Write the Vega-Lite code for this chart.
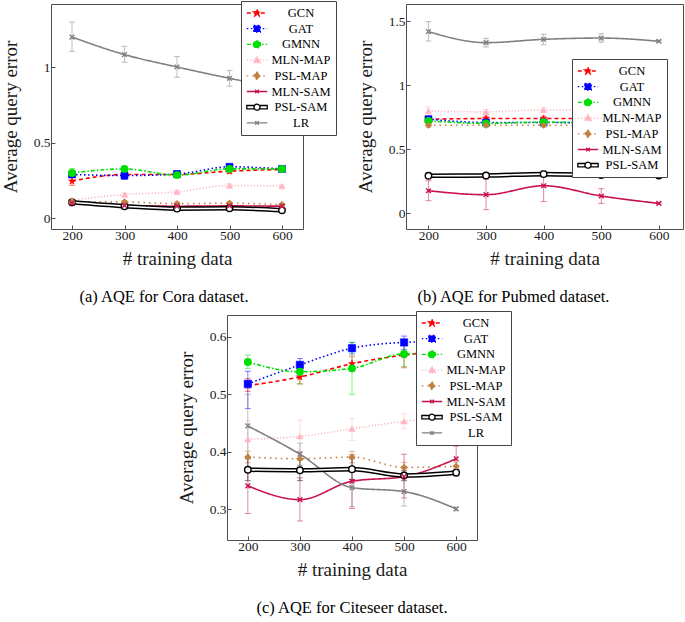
{
  "$schema": "https://vega.github.io/schema/vega-lite/v6.json",
  "padding": {"left": 0, "top": 0, "right": 0, "bottom": 0},
  "bounds": "full",
  "spacing": 4,
  "resolve": {"scale": {"color": "independent", "fill": "independent", "stroke": "independent", "shape": "independent", "strokeDash": "independent"}},
  "vconcat": [
   {
    "bounds": "flush",
    "spacing": 103,
    "resolve": {"scale": {"color": "independent", "fill": "independent", "stroke": "independent", "shape": "independent", "strokeDash": "independent"}},
    "hconcat": [
    {
      "width": 252, "height": 225,
      "data": {"name": "a"},
      "title": {"text": "(a) AQE for Cora dataset.", "orient": "bottom", "font": "Liberation Serif", "fontSize": 16.5, "fontWeight": "normal", "color": "black", "anchor": "middle", "dx": -13, "offset": 20},
      "encoding": {
        "x": {"field": "x", "type": "quantitative", "scale": {"domain": [160, 640], "nice": false, "zero": false}, "axis": {"values": [200, 300, 400, 500, 600], "title": "# training data"}},
        "y": {"field": "y", "type": "quantitative", "scale": {"domain": [-0.071, 1.419], "nice": false, "zero": false}, "axis": {"values": [0, 0.5, 1], "format": "~g", "title": "Average query error"}}
      },
      "layer": [
        {"transform": [{"filter": "false"}], "mark": {"type": "point"},
         "encoding": {
           "fill": {"field": "s", "type": "nominal", "legend": {"title": null, "orient": "none", "legendX": 190, "legendY": -3, "strokeColor": "#444444", "fillColor": "white", "padding": 5, "symbolSize": 144, "symbolStrokeWidth": 1.3, "symbolOffset": 4, "labelOffset": 37, "labelAlign": "center", "labelFont": "Liberation Serif", "labelFontSize": 12.5, "labelColor": "black", "rowPadding": 1.7},
             "scale": {"domain": ["GCN","GAT","GMNN","MLN-MAP","PSL-MAP","MLN-SAM","PSL-SAM","LR"], "range": ["#ff0000","#0000ff","#00e000","#ffb6c1","#bf8040","#c8104e","#ffffff","#808080"]}},
           "stroke": {"field": "s", "type": "nominal", "legend": {"title": null, "orient": "none", "legendX": 190, "legendY": -3, "strokeColor": "#444444", "fillColor": "white", "padding": 5, "symbolSize": 144, "symbolStrokeWidth": 1.3, "symbolOffset": 4, "labelOffset": 37, "labelAlign": "center", "labelFont": "Liberation Serif", "labelFontSize": 12.5, "labelColor": "black", "rowPadding": 1.7},
             "scale": {"domain": ["GCN","GAT","GMNN","MLN-MAP","PSL-MAP","MLN-SAM","PSL-SAM","LR"], "range": ["#ff0000","#0000ff","#00e000","#ffb6c1","#bf8040","#c8104e","#000000","#808080"]}},
           "strokeDash": {"field": "s", "type": "nominal", "legend": {"title": null, "orient": "none", "legendX": 190, "legendY": -3, "strokeColor": "#444444", "fillColor": "white", "padding": 5, "symbolSize": 144, "symbolStrokeWidth": 1.3, "symbolOffset": 4, "labelOffset": 37, "labelAlign": "center", "labelFont": "Liberation Serif", "labelFontSize": 12.5, "labelColor": "black", "rowPadding": 1.7},
             "scale": {"domain": ["GCN","GAT","GMNN","MLN-MAP","PSL-MAP","MLN-SAM","PSL-SAM","LR"], "range": [[4,3],[1.5,2.5],[4,2,1.5,2],[1.2,2],[1.5,4],[1,0],[1,0],[1,0]]}},
           "shape": {"field": "s", "type": "nominal", "legend": {"title": null, "orient": "none", "legendX": 190, "legendY": -3, "strokeColor": "#444444", "fillColor": "white", "padding": 5, "symbolSize": 144, "symbolStrokeWidth": 1.3, "symbolOffset": 4, "labelOffset": 37, "labelAlign": "center", "labelFont": "Liberation Serif", "labelFontSize": 12.5, "labelColor": "black", "rowPadding": 1.7},
             "scale": {"domain": ["GCN","GAT","GMNN","MLN-MAP","PSL-MAP","MLN-SAM","PSL-SAM","LR"], "range": [
               "M-1.7,0H1.7M0,-0.62L0.147,-0.202L0.59,-0.192L0.238,0.077L0.364,0.502L0,0.25L-0.364,0.502L-0.238,0.077L-0.59,-0.192L-0.147,-0.202Z",
               "M-1.7,0H1.7M-0.55,-0.55H0.55V0.55H-0.55Z",
               "M-1.7,0H1.7M-0.6,0A0.6,0.6,0,1,0,0.6,0A0.6,0.6,0,1,0,-0.6,0Z",
               "M-1.7,0H1.7M0,-0.65L0.6,0.45H-0.6Z",
               "M-1.7,0H1.7M0,-0.7L0.55,0L0,0.7L-0.55,0Z",
               "M-1.7,0H1.7M-0.3,-0.3L0.3,0.3M-0.3,0.3L0.3,-0.3",
               "M-1.7,-0.28H-0.5V0.28H-1.7ZM0.5,-0.28H1.7V0.28H0.5ZM-0.5,0A0.5,0.5,0,1,0,0.5,0A0.5,0.5,0,1,0,-0.5,0Z",
               "M-1.7,0H1.7M-0.3,-0.3L0.3,0.3M-0.3,0.3L0.3,-0.3"]}}
         }},
        {"mark": {"type": "errorbar", "ticks": {"size": 6, "opacity": 0.5}, "rule": {"opacity": 0.5}},
         "encoding": {"y": {"field": "lo", "type": "quantitative", "scale": {"domain": [-0.071, 1.419], "nice": false, "zero": false}, "title": "Average query error"}, "y2": {"field": "hi"},
           "color": {"field": "s", "type": "nominal", "legend": null, "scale": {"domain": ["LR","GCN","GAT","GMNN","MLN-MAP","PSL-MAP","MLN-SAM","PSL-SAM"], "range": ["#808080","#ff0000","#0000ff","#00e000","#ffb6c1","#bf8040","#c8104e","#000000"]}}}},
        {"transform": [{"filter": {"not": {"field": "s", "equal": "PSL-SAM"}}}],
         "mark": {"type": "line", "interpolate": "monotone", "strokeWidth": 1.6},
         "encoding": {"color": {"field": "s", "type": "nominal", "legend": null, "scale": {"domain": ["LR","GCN","GAT","GMNN","MLN-MAP","PSL-MAP","MLN-SAM","PSL-SAM"], "range": ["#808080","#ff0000","#0000ff","#00e000","#ffb6c1","#bf8040","#c8104e","#000000"]}},
           "strokeDash": {"field": "s", "type": "nominal"}}},
        {"transform": [{"filter": {"field": "s", "equal": "PSL-SAM"}}], "mark": {"type": "line", "interpolate": "monotone", "strokeWidth": 4.6, "color": "black"}, "encoding": {}},
        {"transform": [{"filter": {"field": "s", "equal": "PSL-SAM"}}], "mark": {"type": "line", "interpolate": "monotone", "strokeWidth": 1.6, "color": "white"}, "encoding": {}},
        {"transform": [{"filter": {"field": "s", "equal": "GCN"}}], "mark": {"type": "point", "shape": "M0,-1L0.235,-0.324L0.951,-0.309L0.38,0.124L0.588,0.809L0,0.4L-0.588,0.809L-0.38,0.124L-0.951,-0.309L-0.235,-0.324Z", "filled": true, "size": 55, "strokeWidth": 0.5, "opacity": 1},
         "encoding": {"fill": {"field": "s", "type": "nominal"}, "stroke": {"field": "s", "type": "nominal"}}},
        {"transform": [{"filter": {"field": "s", "equal": "GAT"}}], "mark": {"type": "point", "shape": "square", "filled": true, "size": 50, "strokeWidth": 0.5, "opacity": 1},
         "encoding": {"fill": {"field": "s", "type": "nominal"}, "stroke": {"field": "s", "type": "nominal"}}},
        {"transform": [{"filter": {"field": "s", "oneOf": ["GMNN", "PSL-SAM"]}}], "mark": {"type": "point", "shape": "circle", "filled": true, "size": 42, "strokeWidth": 1.4, "opacity": 1},
         "encoding": {"fill": {"field": "s", "type": "nominal"}, "stroke": {"field": "s", "type": "nominal"}}},
        {"transform": [{"filter": {"field": "s", "equal": "MLN-MAP"}}], "mark": {"type": "point", "shape": "triangle-up", "filled": true, "size": 40, "strokeWidth": 0.5, "opacity": 1},
         "encoding": {"fill": {"field": "s", "type": "nominal"}, "stroke": {"field": "s", "type": "nominal"}}},
        {"transform": [{"filter": {"field": "s", "equal": "PSL-MAP"}}], "mark": {"type": "point", "shape": "diamond", "filled": true, "size": 45, "strokeWidth": 0.5, "opacity": 1},
         "encoding": {"fill": {"field": "s", "type": "nominal"}, "stroke": {"field": "s", "type": "nominal"}}},
        {"transform": [{"filter": {"field": "s", "oneOf": ["MLN-SAM", "LR"]}}], "mark": {"type": "point", "shape": "M-1,-1L1,1M-1,1L1,-1", "filled": false, "size": 22, "strokeWidth": 1.4, "opacity": 1},
         "encoding": {"stroke": {"field": "s", "type": "nominal"}}}
      ]
    },
    {
      "width": 277, "height": 225,
      "data": {"name": "b"},
      "title": {"text": "(b) AQE for Pubmed dataset.", "orient": "bottom", "font": "Liberation Serif", "fontSize": 16.5, "fontWeight": "normal", "color": "black", "anchor": "middle", "dx": -31, "offset": 20},
      "encoding": {
        "x": {"field": "x", "type": "quantitative", "scale": {"domain": [161, 642], "nice": false, "zero": false}, "axis": {"values": [200, 300, 400, 500, 600], "title": "# training data"}},
        "y": {"field": "y", "type": "quantitative", "scale": {"domain": [-0.125, 1.633], "nice": false, "zero": false}, "axis": {"values": [0, 0.5, 1, 1.5], "format": "~g", "title": "Average query error"}}
      },
      "layer": [
        {"transform": [{"filter": "false"}], "mark": {"type": "point"},
         "encoding": {
           "fill": {"field": "s", "type": "nominal", "legend": {"title": null, "values": ["GCN","GAT","GMNN","MLN-MAP","PSL-MAP","MLN-SAM","PSL-SAM"], "orient": "none", "legendX": 166, "legendY": 55, "strokeColor": "#444444", "fillColor": "white", "padding": 5, "symbolSize": 144, "symbolStrokeWidth": 1.3, "symbolOffset": 4, "labelOffset": 37, "labelAlign": "center", "labelFont": "Liberation Serif", "labelFontSize": 12.5, "labelColor": "black", "rowPadding": 1.7},
             "scale": {"domain": ["GCN","GAT","GMNN","MLN-MAP","PSL-MAP","MLN-SAM","PSL-SAM","LR"], "range": ["#ff0000","#0000ff","#00e000","#ffb6c1","#bf8040","#c8104e","#ffffff","#808080"]}},
           "stroke": {"field": "s", "type": "nominal", "legend": {"title": null, "values": ["GCN","GAT","GMNN","MLN-MAP","PSL-MAP","MLN-SAM","PSL-SAM"], "orient": "none", "legendX": 166, "legendY": 55, "strokeColor": "#444444", "fillColor": "white", "padding": 5, "symbolSize": 144, "symbolStrokeWidth": 1.3, "symbolOffset": 4, "labelOffset": 37, "labelAlign": "center", "labelFont": "Liberation Serif", "labelFontSize": 12.5, "labelColor": "black", "rowPadding": 1.7},
             "scale": {"domain": ["GCN","GAT","GMNN","MLN-MAP","PSL-MAP","MLN-SAM","PSL-SAM","LR"], "range": ["#ff0000","#0000ff","#00e000","#ffb6c1","#bf8040","#c8104e","#000000","#808080"]}},
           "strokeDash": {"field": "s", "type": "nominal", "legend": {"title": null, "values": ["GCN","GAT","GMNN","MLN-MAP","PSL-MAP","MLN-SAM","PSL-SAM"], "orient": "none", "legendX": 166, "legendY": 55, "strokeColor": "#444444", "fillColor": "white", "padding": 5, "symbolSize": 144, "symbolStrokeWidth": 1.3, "symbolOffset": 4, "labelOffset": 37, "labelAlign": "center", "labelFont": "Liberation Serif", "labelFontSize": 12.5, "labelColor": "black", "rowPadding": 1.7},
             "scale": {"domain": ["GCN","GAT","GMNN","MLN-MAP","PSL-MAP","MLN-SAM","PSL-SAM","LR"], "range": [[4,3],[1.5,2.5],[4,2,1.5,2],[1.2,2],[1.5,4],[1,0],[1,0],[1,0]]}},
           "shape": {"field": "s", "type": "nominal", "legend": {"title": null, "values": ["GCN","GAT","GMNN","MLN-MAP","PSL-MAP","MLN-SAM","PSL-SAM"], "orient": "none", "legendX": 166, "legendY": 55, "strokeColor": "#444444", "fillColor": "white", "padding": 5, "symbolSize": 144, "symbolStrokeWidth": 1.3, "symbolOffset": 4, "labelOffset": 37, "labelAlign": "center", "labelFont": "Liberation Serif", "labelFontSize": 12.5, "labelColor": "black", "rowPadding": 1.7},
             "scale": {"domain": ["GCN","GAT","GMNN","MLN-MAP","PSL-MAP","MLN-SAM","PSL-SAM","LR"], "range": [
               "M-1.7,0H1.7M0,-0.62L0.147,-0.202L0.59,-0.192L0.238,0.077L0.364,0.502L0,0.25L-0.364,0.502L-0.238,0.077L-0.59,-0.192L-0.147,-0.202Z",
               "M-1.7,0H1.7M-0.55,-0.55H0.55V0.55H-0.55Z",
               "M-1.7,0H1.7M-0.6,0A0.6,0.6,0,1,0,0.6,0A0.6,0.6,0,1,0,-0.6,0Z",
               "M-1.7,0H1.7M0,-0.65L0.6,0.45H-0.6Z",
               "M-1.7,0H1.7M0,-0.7L0.55,0L0,0.7L-0.55,0Z",
               "M-1.7,0H1.7M-0.3,-0.3L0.3,0.3M-0.3,0.3L0.3,-0.3",
               "M-1.7,-0.28H-0.5V0.28H-1.7ZM0.5,-0.28H1.7V0.28H0.5ZM-0.5,0A0.5,0.5,0,1,0,0.5,0A0.5,0.5,0,1,0,-0.5,0Z",
               "M-1.7,0H1.7M-0.3,-0.3L0.3,0.3M-0.3,0.3L0.3,-0.3"]}}
         }},
        {"mark": {"type": "errorbar", "ticks": {"size": 6, "opacity": 0.5}, "rule": {"opacity": 0.5}},
         "encoding": {"y": {"field": "lo", "type": "quantitative", "scale": {"domain": [-0.125, 1.633], "nice": false, "zero": false}, "title": "Average query error"}, "y2": {"field": "hi"},
           "color": {"field": "s", "type": "nominal", "legend": null, "scale": {"domain": ["LR","GCN","GAT","GMNN","MLN-MAP","PSL-MAP","MLN-SAM","PSL-SAM"], "range": ["#808080","#ff0000","#0000ff","#00e000","#ffb6c1","#bf8040","#c8104e","#000000"]}}}},
        {"transform": [{"filter": {"not": {"field": "s", "equal": "PSL-SAM"}}}],
         "mark": {"type": "line", "interpolate": "monotone", "strokeWidth": 1.6},
         "encoding": {"color": {"field": "s", "type": "nominal", "legend": null, "scale": {"domain": ["LR","GCN","GAT","GMNN","MLN-MAP","PSL-MAP","MLN-SAM","PSL-SAM"], "range": ["#808080","#ff0000","#0000ff","#00e000","#ffb6c1","#bf8040","#c8104e","#000000"]}},
           "strokeDash": {"field": "s", "type": "nominal"}}},
        {"transform": [{"filter": {"field": "s", "equal": "PSL-SAM"}}], "mark": {"type": "line", "interpolate": "monotone", "strokeWidth": 4.6, "color": "black"}, "encoding": {}},
        {"transform": [{"filter": {"field": "s", "equal": "PSL-SAM"}}], "mark": {"type": "line", "interpolate": "monotone", "strokeWidth": 1.6, "color": "white"}, "encoding": {}},
        {"transform": [{"filter": {"field": "s", "equal": "GCN"}}], "mark": {"type": "point", "shape": "M0,-1L0.235,-0.324L0.951,-0.309L0.38,0.124L0.588,0.809L0,0.4L-0.588,0.809L-0.38,0.124L-0.951,-0.309L-0.235,-0.324Z", "filled": true, "size": 55, "strokeWidth": 0.5, "opacity": 1},
         "encoding": {"fill": {"field": "s", "type": "nominal"}, "stroke": {"field": "s", "type": "nominal"}}},
        {"transform": [{"filter": {"field": "s", "equal": "GAT"}}], "mark": {"type": "point", "shape": "square", "filled": true, "size": 50, "strokeWidth": 0.5, "opacity": 1},
         "encoding": {"fill": {"field": "s", "type": "nominal"}, "stroke": {"field": "s", "type": "nominal"}}},
        {"transform": [{"filter": {"field": "s", "oneOf": ["GMNN", "PSL-SAM"]}}], "mark": {"type": "point", "shape": "circle", "filled": true, "size": 42, "strokeWidth": 1.4, "opacity": 1},
         "encoding": {"fill": {"field": "s", "type": "nominal"}, "stroke": {"field": "s", "type": "nominal"}}},
        {"transform": [{"filter": {"field": "s", "equal": "MLN-MAP"}}], "mark": {"type": "point", "shape": "triangle-up", "filled": true, "size": 40, "strokeWidth": 0.5, "opacity": 1},
         "encoding": {"fill": {"field": "s", "type": "nominal"}, "stroke": {"field": "s", "type": "nominal"}}},
        {"transform": [{"filter": {"field": "s", "equal": "PSL-MAP"}}], "mark": {"type": "point", "shape": "diamond", "filled": true, "size": 45, "strokeWidth": 0.5, "opacity": 1},
         "encoding": {"fill": {"field": "s", "type": "nominal"}, "stroke": {"field": "s", "type": "nominal"}}},
        {"transform": [{"filter": {"field": "s", "oneOf": ["MLN-SAM", "LR"]}}], "mark": {"type": "point", "shape": "M-1,-1L1,1M-1,1L1,-1", "filled": false, "size": 22, "strokeWidth": 1.4, "opacity": 1},
         "encoding": {"stroke": {"field": "s", "type": "nominal"}}}
      ]
    }
    ]
   },
   {
    "bounds": "flush",
    "spacing": 103,
    "resolve": {"scale": {"color": "independent", "fill": "independent", "stroke": "independent", "shape": "independent", "strokeDash": "independent"}},
    "hconcat": [
    {"width": 72.7, "height": 225, "data": {"values": []}, "mark": {"type": "point"}, "encoding": {}, "view": {"stroke": null, "fill": "white"}},
    {
      "width": 250, "height": 225,
      "data": {"name": "c"},
      "title": {"text": "(c) AQE for Citeseer dataset.", "orient": "bottom", "font": "Liberation Serif", "fontSize": 16.5, "fontWeight": "normal", "color": "black", "anchor": "middle", "dx": 0, "offset": 20},
      "encoding": {
        "x": {"field": "x", "type": "quantitative", "scale": {"domain": [160, 640], "nice": false, "zero": false}, "axis": {"values": [200, 300, 400, 500, 600], "title": "# training data"}},
        "y": {"field": "y", "type": "quantitative", "scale": {"domain": [0.247, 0.6376], "nice": false, "zero": false}, "axis": {"values": [0.3, 0.4, 0.5, 0.6], "format": "~g", "title": "Average query error"}}
      },
      "layer": [
        {"transform": [{"filter": "false"}], "mark": {"type": "point"},
         "encoding": {
           "fill": {"field": "s", "type": "nominal", "legend": {"title": null, "orient": "none", "legendX": 189, "legendY": -4, "strokeColor": "#444444", "fillColor": "white", "padding": 5, "symbolSize": 144, "symbolStrokeWidth": 1.3, "symbolOffset": 4, "labelOffset": 37, "labelAlign": "center", "labelFont": "Liberation Serif", "labelFontSize": 12.5, "labelColor": "black", "rowPadding": 1.7},
             "scale": {"domain": ["GCN","GAT","GMNN","MLN-MAP","PSL-MAP","MLN-SAM","PSL-SAM","LR"], "range": ["#ff0000","#0000ff","#00e000","#ffb6c1","#bf8040","#c8104e","#ffffff","#808080"]}},
           "stroke": {"field": "s", "type": "nominal", "legend": {"title": null, "orient": "none", "legendX": 189, "legendY": -4, "strokeColor": "#444444", "fillColor": "white", "padding": 5, "symbolSize": 144, "symbolStrokeWidth": 1.3, "symbolOffset": 4, "labelOffset": 37, "labelAlign": "center", "labelFont": "Liberation Serif", "labelFontSize": 12.5, "labelColor": "black", "rowPadding": 1.7},
             "scale": {"domain": ["GCN","GAT","GMNN","MLN-MAP","PSL-MAP","MLN-SAM","PSL-SAM","LR"], "range": ["#ff0000","#0000ff","#00e000","#ffb6c1","#bf8040","#c8104e","#000000","#808080"]}},
           "strokeDash": {"field": "s", "type": "nominal", "legend": {"title": null, "orient": "none", "legendX": 189, "legendY": -4, "strokeColor": "#444444", "fillColor": "white", "padding": 5, "symbolSize": 144, "symbolStrokeWidth": 1.3, "symbolOffset": 4, "labelOffset": 37, "labelAlign": "center", "labelFont": "Liberation Serif", "labelFontSize": 12.5, "labelColor": "black", "rowPadding": 1.7},
             "scale": {"domain": ["GCN","GAT","GMNN","MLN-MAP","PSL-MAP","MLN-SAM","PSL-SAM","LR"], "range": [[4,3],[1.5,2.5],[4,2,1.5,2],[1.2,2],[1.5,4],[1,0],[1,0],[1,0]]}},
           "shape": {"field": "s", "type": "nominal", "legend": {"title": null, "orient": "none", "legendX": 189, "legendY": -4, "strokeColor": "#444444", "fillColor": "white", "padding": 5, "symbolSize": 144, "symbolStrokeWidth": 1.3, "symbolOffset": 4, "labelOffset": 37, "labelAlign": "center", "labelFont": "Liberation Serif", "labelFontSize": 12.5, "labelColor": "black", "rowPadding": 1.7},
             "scale": {"domain": ["GCN","GAT","GMNN","MLN-MAP","PSL-MAP","MLN-SAM","PSL-SAM","LR"], "range": [
               "M-1.7,0H1.7M0,-0.62L0.147,-0.202L0.59,-0.192L0.238,0.077L0.364,0.502L0,0.25L-0.364,0.502L-0.238,0.077L-0.59,-0.192L-0.147,-0.202Z",
               "M-1.7,0H1.7M-0.55,-0.55H0.55V0.55H-0.55Z",
               "M-1.7,0H1.7M-0.6,0A0.6,0.6,0,1,0,0.6,0A0.6,0.6,0,1,0,-0.6,0Z",
               "M-1.7,0H1.7M0,-0.65L0.6,0.45H-0.6Z",
               "M-1.7,0H1.7M0,-0.7L0.55,0L0,0.7L-0.55,0Z",
               "M-1.7,0H1.7M-0.3,-0.3L0.3,0.3M-0.3,0.3L0.3,-0.3",
               "M-1.7,-0.28H-0.5V0.28H-1.7ZM0.5,-0.28H1.7V0.28H0.5ZM-0.5,0A0.5,0.5,0,1,0,0.5,0A0.5,0.5,0,1,0,-0.5,0Z",
               "M-1.7,0H1.7M-0.3,-0.3L0.3,0.3M-0.3,0.3L0.3,-0.3"]}}
         }},
        {"mark": {"type": "errorbar", "ticks": {"size": 6, "opacity": 0.5}, "rule": {"opacity": 0.5}},
         "encoding": {"y": {"field": "lo", "type": "quantitative", "scale": {"domain": [0.247, 0.6376], "nice": false, "zero": false}, "title": "Average query error"}, "y2": {"field": "hi"},
           "color": {"field": "s", "type": "nominal", "legend": null, "scale": {"domain": ["LR","GCN","GAT","GMNN","MLN-MAP","PSL-MAP","MLN-SAM","PSL-SAM"], "range": ["#808080","#ff0000","#0000ff","#00e000","#ffb6c1","#bf8040","#c8104e","#000000"]}}}},
        {"transform": [{"filter": {"not": {"field": "s", "equal": "PSL-SAM"}}}],
         "mark": {"type": "line", "interpolate": "monotone", "strokeWidth": 1.6},
         "encoding": {"color": {"field": "s", "type": "nominal", "legend": null, "scale": {"domain": ["LR","GCN","GAT","GMNN","MLN-MAP","PSL-MAP","MLN-SAM","PSL-SAM"], "range": ["#808080","#ff0000","#0000ff","#00e000","#ffb6c1","#bf8040","#c8104e","#000000"]}},
           "strokeDash": {"field": "s", "type": "nominal"}}},
        {"transform": [{"filter": {"field": "s", "equal": "PSL-SAM"}}], "mark": {"type": "line", "interpolate": "monotone", "strokeWidth": 4.6, "color": "black"}, "encoding": {}},
        {"transform": [{"filter": {"field": "s", "equal": "PSL-SAM"}}], "mark": {"type": "line", "interpolate": "monotone", "strokeWidth": 1.6, "color": "white"}, "encoding": {}},
        {"transform": [{"filter": {"field": "s", "equal": "GCN"}}], "mark": {"type": "point", "shape": "M0,-1L0.235,-0.324L0.951,-0.309L0.38,0.124L0.588,0.809L0,0.4L-0.588,0.809L-0.38,0.124L-0.951,-0.309L-0.235,-0.324Z", "filled": true, "size": 55, "strokeWidth": 0.5, "opacity": 1},
         "encoding": {"fill": {"field": "s", "type": "nominal"}, "stroke": {"field": "s", "type": "nominal"}}},
        {"transform": [{"filter": {"field": "s", "equal": "GAT"}}], "mark": {"type": "point", "shape": "square", "filled": true, "size": 55, "strokeWidth": 0.5, "opacity": 1},
         "encoding": {"fill": {"field": "s", "type": "nominal"}, "stroke": {"field": "s", "type": "nominal"}}},
        {"transform": [{"filter": {"field": "s", "oneOf": ["GMNN", "PSL-SAM"]}}], "mark": {"type": "point", "shape": "circle", "filled": true, "size": 42, "strokeWidth": 1.4, "opacity": 1},
         "encoding": {"fill": {"field": "s", "type": "nominal"}, "stroke": {"field": "s", "type": "nominal"}}},
        {"transform": [{"filter": {"field": "s", "equal": "MLN-MAP"}}], "mark": {"type": "point", "shape": "triangle-up", "filled": true, "size": 40, "strokeWidth": 0.5, "opacity": 1},
         "encoding": {"fill": {"field": "s", "type": "nominal"}, "stroke": {"field": "s", "type": "nominal"}}},
        {"transform": [{"filter": {"field": "s", "equal": "PSL-MAP"}}], "mark": {"type": "point", "shape": "diamond", "filled": true, "size": 45, "strokeWidth": 0.5, "opacity": 1},
         "encoding": {"fill": {"field": "s", "type": "nominal"}, "stroke": {"field": "s", "type": "nominal"}}},
        {"transform": [{"filter": {"field": "s", "oneOf": ["MLN-SAM", "LR"]}}], "mark": {"type": "point", "shape": "M-1,-1L1,1M-1,1L1,-1", "filled": false, "size": 22, "strokeWidth": 1.4, "opacity": 1},
         "encoding": {"stroke": {"field": "s", "type": "nominal"}}}
      ]
    }
    ]
   }
  ],
  "datasets": {
    "a": [
      {"s": "GCN", "x": 200, "y": 0.246, "lo": 0.218, "hi": 0.274},
      {"s": "GCN", "x": 300, "y": 0.29, "lo": 0.272, "hi": 0.308},
      {"s": "GCN", "x": 400, "y": 0.29, "lo": 0.276, "hi": 0.304},
      {"s": "GCN", "x": 500, "y": 0.312, "lo": 0.296, "hi": 0.328},
      {"s": "GCN", "x": 600, "y": 0.323, "lo": 0.313, "hi": 0.333},
      {"s": "GAT", "x": 200, "y": 0.29, "lo": 0.27, "hi": 0.31},
      {"s": "GAT", "x": 300, "y": 0.283, "lo": 0.257, "hi": 0.305},
      {"s": "GAT", "x": 400, "y": 0.293, "lo": 0.27, "hi": 0.316},
      {"s": "GAT", "x": 500, "y": 0.341, "lo": 0.331, "hi": 0.351},
      {"s": "GAT", "x": 600, "y": 0.327, "lo": 0.319, "hi": 0.335},
      {"s": "GMNN", "x": 200, "y": 0.3, "lo": 0.28, "hi": 0.33},
      {"s": "GMNN", "x": 300, "y": 0.327, "lo": 0.315, "hi": 0.339},
      {"s": "GMNN", "x": 400, "y": 0.286, "lo": 0.272, "hi": 0.3},
      {"s": "GMNN", "x": 500, "y": 0.327, "lo": 0.315, "hi": 0.339},
      {"s": "GMNN", "x": 600, "y": 0.327, "lo": 0.318, "hi": 0.336},
      {"s": "MLN-MAP", "x": 200, "y": 0.12, "lo": 0.11, "hi": 0.13},
      {"s": "MLN-MAP", "x": 300, "y": 0.157, "lo": 0.146, "hi": 0.168},
      {"s": "MLN-MAP", "x": 400, "y": 0.175, "lo": 0.165, "hi": 0.185},
      {"s": "MLN-MAP", "x": 500, "y": 0.217, "lo": 0.206, "hi": 0.228},
      {"s": "MLN-MAP", "x": 600, "y": 0.213, "lo": 0.205, "hi": 0.221},
      {"s": "PSL-MAP", "x": 200, "y": 0.11, "lo": 0.1, "hi": 0.12},
      {"s": "PSL-MAP", "x": 300, "y": 0.108, "lo": 0.098, "hi": 0.118},
      {"s": "PSL-MAP", "x": 400, "y": 0.097, "lo": 0.088, "hi": 0.106},
      {"s": "PSL-MAP", "x": 500, "y": 0.1, "lo": 0.09, "hi": 0.11},
      {"s": "PSL-MAP", "x": 600, "y": 0.09, "lo": 0.082, "hi": 0.098},
      {"s": "MLN-SAM", "x": 200, "y": 0.1, "lo": 0.082, "hi": 0.116},
      {"s": "MLN-SAM", "x": 300, "y": 0.085, "lo": 0.077, "hi": 0.093},
      {"s": "MLN-SAM", "x": 400, "y": 0.08, "lo": 0.073, "hi": 0.087},
      {"s": "MLN-SAM", "x": 500, "y": 0.082, "lo": 0.075, "hi": 0.089},
      {"s": "MLN-SAM", "x": 600, "y": 0.08, "lo": 0.073, "hi": 0.087},
      {"s": "PSL-SAM", "x": 200, "y": 0.106, "lo": 0.1, "hi": 0.112},
      {"s": "PSL-SAM", "x": 300, "y": 0.08, "lo": 0.075, "hi": 0.085},
      {"s": "PSL-SAM", "x": 400, "y": 0.064, "lo": 0.059, "hi": 0.069},
      {"s": "PSL-SAM", "x": 500, "y": 0.066, "lo": 0.061, "hi": 0.071},
      {"s": "PSL-SAM", "x": 600, "y": 0.053, "lo": 0.048, "hi": 0.058},
      {"s": "LR", "x": 200, "y": 1.2, "lo": 1.106, "hi": 1.3},
      {"s": "LR", "x": 300, "y": 1.084, "lo": 1.033, "hi": 1.139},
      {"s": "LR", "x": 400, "y": 1.002, "lo": 0.934, "hi": 1.071},
      {"s": "LR", "x": 500, "y": 0.927, "lo": 0.874, "hi": 0.978},
      {"s": "LR", "x": 600, "y": 0.86, "lo": 0.82, "hi": 0.9}
    ],
    "b": [
      {"s": "GCN", "x": 200, "y": 0.733, "lo": 0.715, "hi": 0.75},
      {"s": "GCN", "x": 300, "y": 0.738, "lo": 0.72, "hi": 0.756},
      {"s": "GCN", "x": 400, "y": 0.738, "lo": 0.72, "hi": 0.756},
      {"s": "GCN", "x": 500, "y": 0.738, "lo": 0.72, "hi": 0.756},
      {"s": "GCN", "x": 600, "y": 0.738, "lo": 0.72, "hi": 0.756},
      {"s": "GAT", "x": 200, "y": 0.733, "lo": 0.715, "hi": 0.75},
      {"s": "GAT", "x": 300, "y": 0.707, "lo": 0.69, "hi": 0.724},
      {"s": "GAT", "x": 400, "y": 0.707, "lo": 0.69, "hi": 0.724},
      {"s": "GAT", "x": 500, "y": 0.705, "lo": 0.69, "hi": 0.72},
      {"s": "GAT", "x": 600, "y": 0.705, "lo": 0.69, "hi": 0.72},
      {"s": "GMNN", "x": 200, "y": 0.72, "lo": 0.705, "hi": 0.735},
      {"s": "GMNN", "x": 300, "y": 0.7, "lo": 0.685, "hi": 0.715},
      {"s": "GMNN", "x": 400, "y": 0.71, "lo": 0.695, "hi": 0.725},
      {"s": "GMNN", "x": 500, "y": 0.705, "lo": 0.69, "hi": 0.72},
      {"s": "GMNN", "x": 600, "y": 0.705, "lo": 0.69, "hi": 0.72},
      {"s": "MLN-MAP", "x": 200, "y": 0.798, "lo": 0.775, "hi": 0.83},
      {"s": "MLN-MAP", "x": 300, "y": 0.79, "lo": 0.77, "hi": 0.81},
      {"s": "MLN-MAP", "x": 400, "y": 0.806, "lo": 0.785, "hi": 0.825},
      {"s": "MLN-MAP", "x": 500, "y": 0.8, "lo": 0.785, "hi": 0.815},
      {"s": "MLN-MAP", "x": 600, "y": 0.8, "lo": 0.785, "hi": 0.815},
      {"s": "PSL-MAP", "x": 200, "y": 0.686, "lo": 0.67, "hi": 0.702},
      {"s": "PSL-MAP", "x": 300, "y": 0.686, "lo": 0.67, "hi": 0.702},
      {"s": "PSL-MAP", "x": 400, "y": 0.686, "lo": 0.67, "hi": 0.702},
      {"s": "PSL-MAP", "x": 500, "y": 0.686, "lo": 0.67, "hi": 0.702},
      {"s": "PSL-MAP", "x": 600, "y": 0.686, "lo": 0.67, "hi": 0.702},
      {"s": "MLN-SAM", "x": 200, "y": 0.174, "lo": 0.096, "hi": 0.252},
      {"s": "MLN-SAM", "x": 300, "y": 0.143, "lo": 0.026, "hi": 0.265},
      {"s": "MLN-SAM", "x": 400, "y": 0.213, "lo": 0.09, "hi": 0.33},
      {"s": "MLN-SAM", "x": 500, "y": 0.133, "lo": 0.075, "hi": 0.19},
      {"s": "MLN-SAM", "x": 600, "y": 0.075, "lo": 0.07, "hi": 0.08},
      {"s": "PSL-SAM", "x": 200, "y": 0.291, "lo": 0.283, "hi": 0.299},
      {"s": "PSL-SAM", "x": 300, "y": 0.293, "lo": 0.285, "hi": 0.301},
      {"s": "PSL-SAM", "x": 400, "y": 0.304, "lo": 0.294, "hi": 0.314},
      {"s": "PSL-SAM", "x": 500, "y": 0.296, "lo": 0.29, "hi": 0.302},
      {"s": "PSL-SAM", "x": 600, "y": 0.293, "lo": 0.288, "hi": 0.298},
      {"s": "LR", "x": 200, "y": 1.417, "lo": 1.344, "hi": 1.495},
      {"s": "LR", "x": 300, "y": 1.331, "lo": 1.297, "hi": 1.365},
      {"s": "LR", "x": 400, "y": 1.357, "lo": 1.315, "hi": 1.396},
      {"s": "LR", "x": 500, "y": 1.367, "lo": 1.334, "hi": 1.401},
      {"s": "LR", "x": 600, "y": 1.342, "lo": 1.336, "hi": 1.348}
    ],
    "c": [
      {"s": "GCN", "x": 200, "y": 0.515, "lo": 0.505, "hi": 0.527},
      {"s": "GCN", "x": 300, "y": 0.53, "lo": 0.518, "hi": 0.542},
      {"s": "GCN", "x": 400, "y": 0.553, "lo": 0.54, "hi": 0.566},
      {"s": "GCN", "x": 500, "y": 0.568, "lo": 0.546, "hi": 0.585},
      {"s": "GCN", "x": 600, "y": 0.576, "lo": 0.562, "hi": 0.59},
      {"s": "GAT", "x": 200, "y": 0.518, "lo": 0.475, "hi": 0.54},
      {"s": "GAT", "x": 300, "y": 0.551, "lo": 0.54, "hi": 0.562},
      {"s": "GAT", "x": 400, "y": 0.58, "lo": 0.57, "hi": 0.59},
      {"s": "GAT", "x": 500, "y": 0.59, "lo": 0.578, "hi": 0.601},
      {"s": "GAT", "x": 600, "y": 0.592, "lo": 0.582, "hi": 0.602},
      {"s": "GMNN", "x": 200, "y": 0.556, "lo": 0.545, "hi": 0.568},
      {"s": "GMNN", "x": 300, "y": 0.539, "lo": 0.518, "hi": 0.55},
      {"s": "GMNN", "x": 400, "y": 0.545, "lo": 0.5, "hi": 0.59},
      {"s": "GMNN", "x": 500, "y": 0.57, "lo": 0.548, "hi": 0.585},
      {"s": "GMNN", "x": 600, "y": 0.57, "lo": 0.56, "hi": 0.58},
      {"s": "MLN-MAP", "x": 200, "y": 0.422, "lo": 0.39, "hi": 0.455},
      {"s": "MLN-MAP", "x": 300, "y": 0.427, "lo": 0.4, "hi": 0.455},
      {"s": "MLN-MAP", "x": 400, "y": 0.44, "lo": 0.42, "hi": 0.458},
      {"s": "MLN-MAP", "x": 500, "y": 0.453, "lo": 0.44, "hi": 0.466},
      {"s": "MLN-MAP", "x": 600, "y": 0.46, "lo": 0.45, "hi": 0.47},
      {"s": "PSL-MAP", "x": 200, "y": 0.391, "lo": 0.381, "hi": 0.401},
      {"s": "PSL-MAP", "x": 300, "y": 0.388, "lo": 0.376, "hi": 0.4},
      {"s": "PSL-MAP", "x": 400, "y": 0.391, "lo": 0.381, "hi": 0.401},
      {"s": "PSL-MAP", "x": 500, "y": 0.373, "lo": 0.365, "hi": 0.382},
      {"s": "PSL-MAP", "x": 600, "y": 0.375, "lo": 0.368, "hi": 0.382},
      {"s": "MLN-SAM", "x": 200, "y": 0.341, "lo": 0.293, "hi": 0.39},
      {"s": "MLN-SAM", "x": 300, "y": 0.317, "lo": 0.28, "hi": 0.355},
      {"s": "MLN-SAM", "x": 400, "y": 0.349, "lo": 0.302, "hi": 0.395},
      {"s": "MLN-SAM", "x": 500, "y": 0.357, "lo": 0.32, "hi": 0.396},
      {"s": "MLN-SAM", "x": 600, "y": 0.388, "lo": 0.366, "hi": 0.41},
      {"s": "PSL-SAM", "x": 200, "y": 0.369, "lo": 0.35, "hi": 0.388},
      {"s": "PSL-SAM", "x": 300, "y": 0.368, "lo": 0.35, "hi": 0.386},
      {"s": "PSL-SAM", "x": 400, "y": 0.37, "lo": 0.352, "hi": 0.388},
      {"s": "PSL-SAM", "x": 500, "y": 0.359, "lo": 0.35, "hi": 0.368},
      {"s": "PSL-SAM", "x": 600, "y": 0.364, "lo": 0.358, "hi": 0.37},
      {"s": "LR", "x": 200, "y": 0.445, "lo": 0.39, "hi": 0.5},
      {"s": "LR", "x": 300, "y": 0.396, "lo": 0.377, "hi": 0.415},
      {"s": "LR", "x": 400, "y": 0.338, "lo": 0.305, "hi": 0.37},
      {"s": "LR", "x": 500, "y": 0.331, "lo": 0.306, "hi": 0.358},
      {"s": "LR", "x": 600, "y": 0.301, "lo": 0.298, "hi": 0.304}
    ]
  },
  "config": {
    "font": "Liberation Serif",
    "view": {"stroke": "#4d4d4d", "strokeWidth": 1},
    "axis": {"grid": false, "domain": false, "labelFont": "Liberation Serif", "labelFontSize": 13.5, "labelColor": "#1a1a1a", "titleFont": "Liberation Serif", "titleFontSize": 19, "titleFontWeight": "normal", "titleColor": "#1a1a1a", "tickColor": "#4d4d4d", "tickSize": -4},
    "axisX": {"labelPadding": 3.5, "titlePadding": 7.5},
    "axisY": {"labelPadding": 5, "titlePadding": 13},
    "legend": {"symbolOpacity": 1}
  }
}
